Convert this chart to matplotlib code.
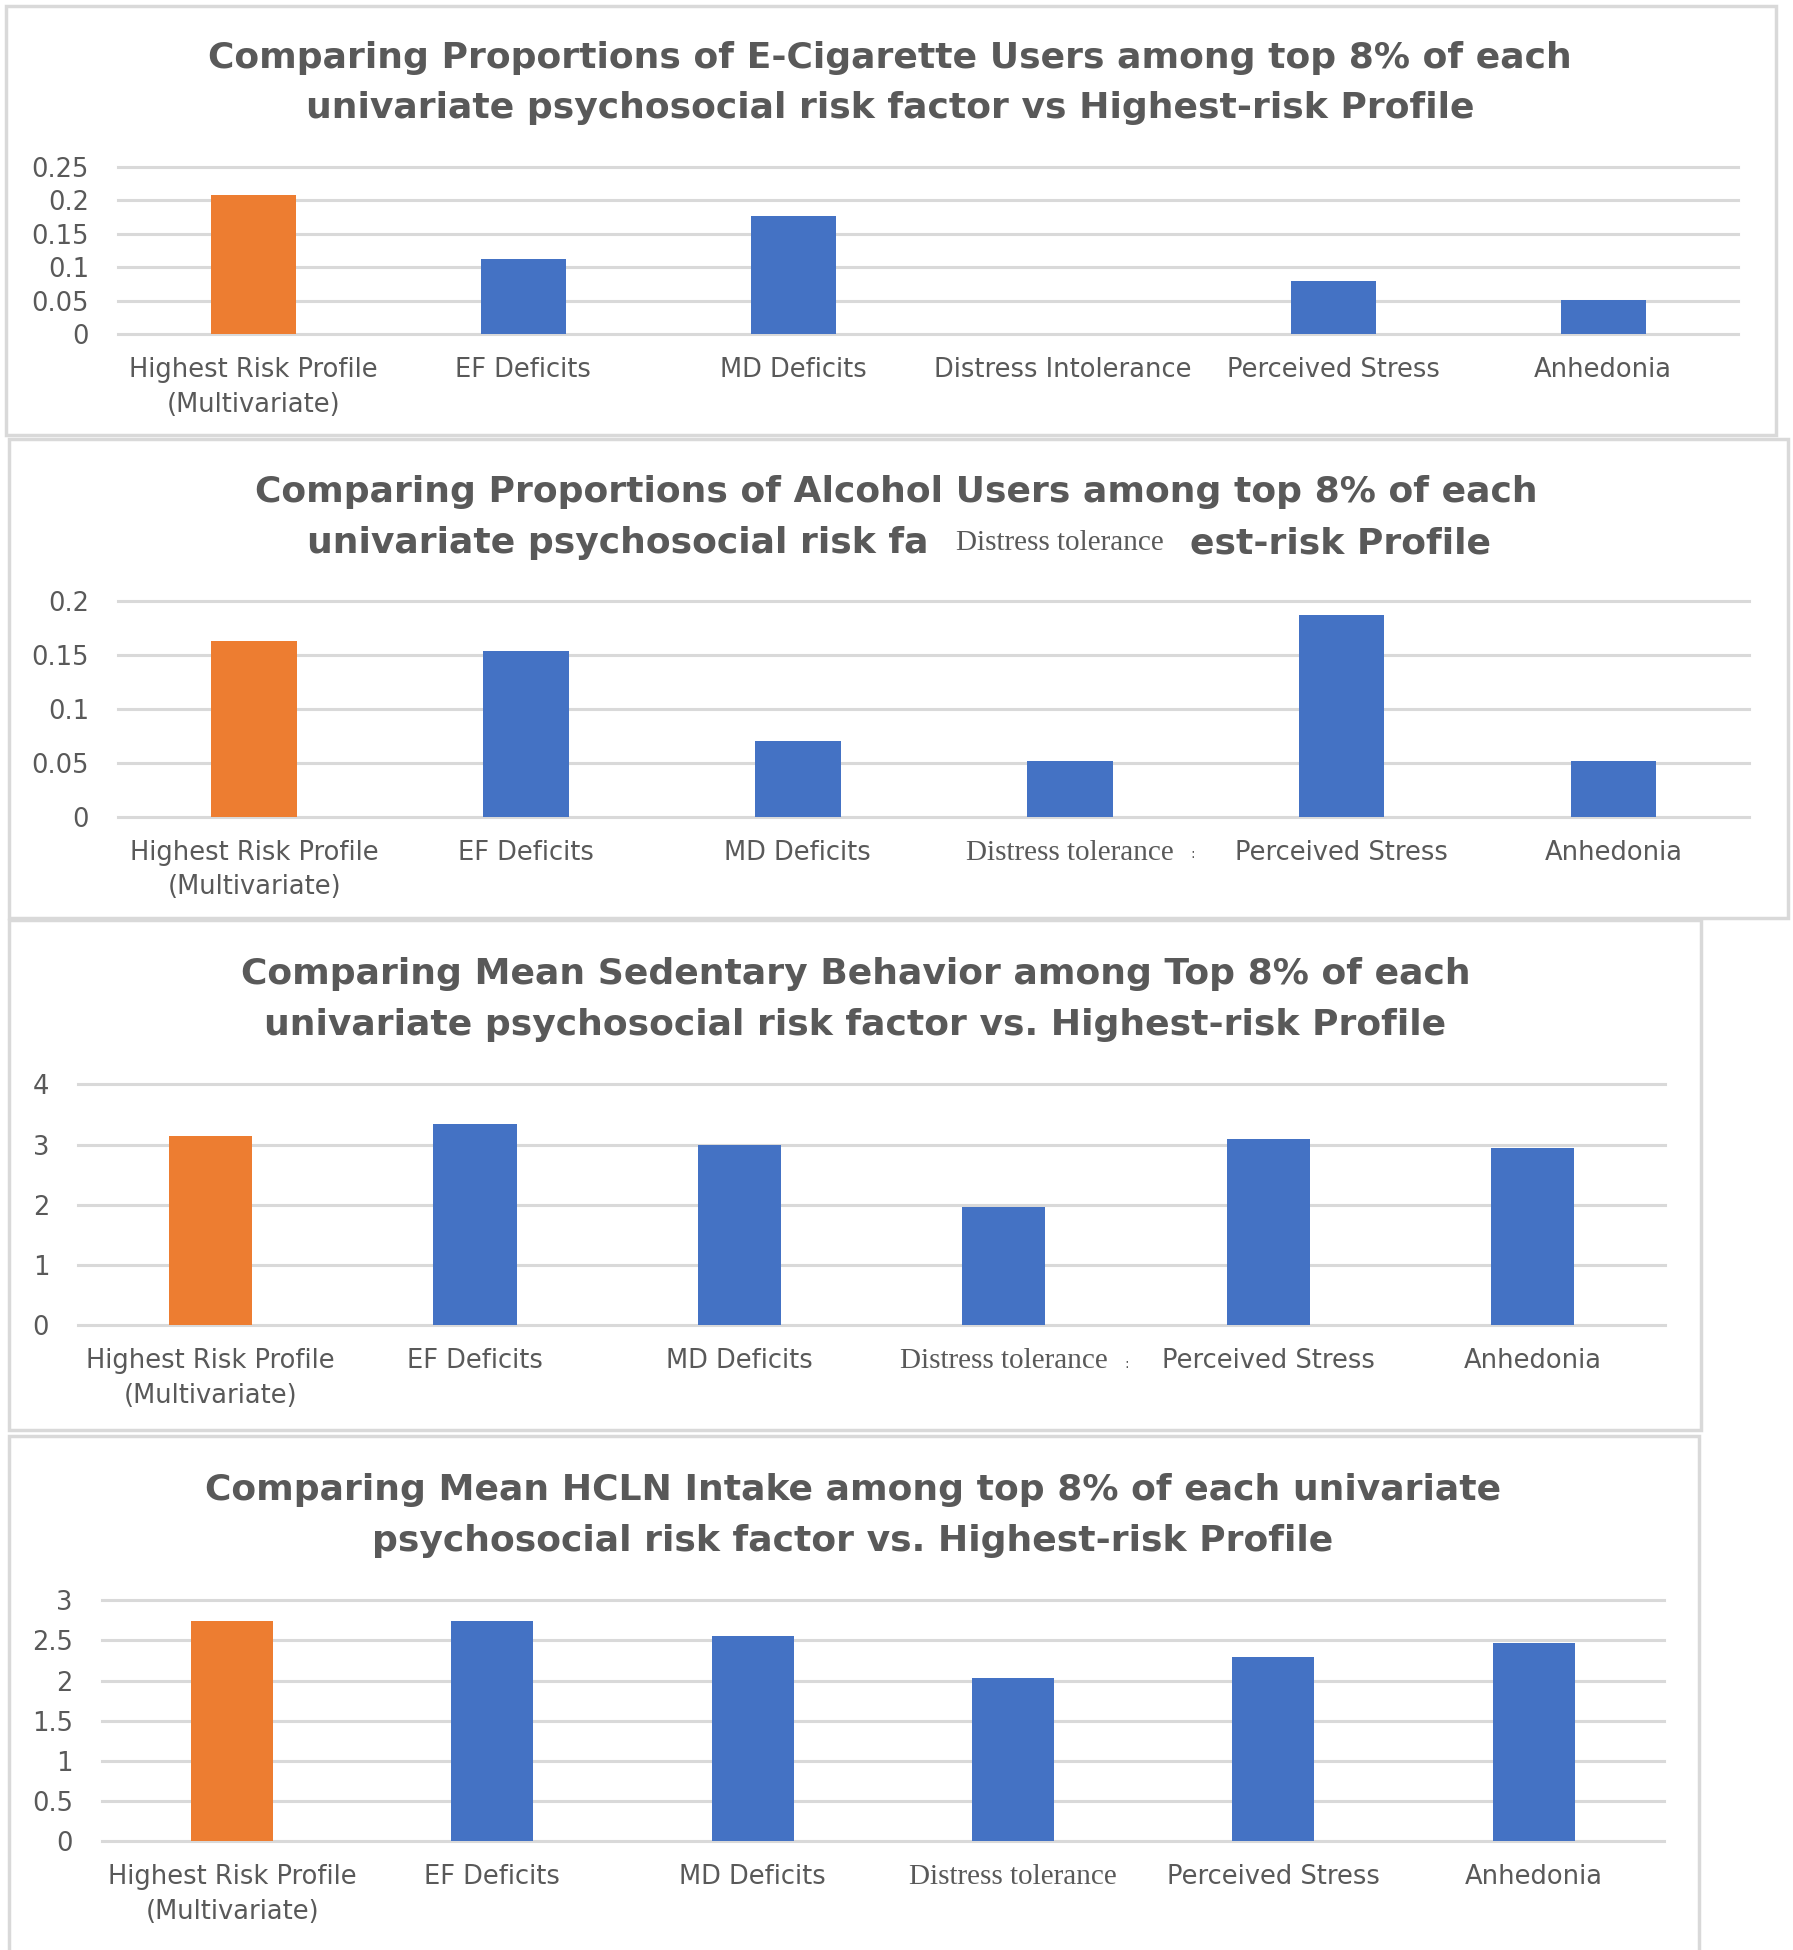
import matplotlib
matplotlib.use("Agg")
import matplotlib.pyplot as plt
from matplotlib.patches import Rectangle

# ---------------- data ----------------
categories_ecig = ["Highest Risk Profile\n(Multivariate)", "EF Deficits", "MD Deficits",
                   "Distress Intolerance", "Perceived Stress", "Anhedonia"]
categories = ["Highest Risk Profile\n(Multivariate)", "EF Deficits", "MD Deficits",
              "Distress tolerance", "Perceived Stress", "Anhedonia"]

ecig = [0.208, 0.113, 0.177, 0.0, 0.079, 0.052]
alcohol = [0.163, 0.153, 0.070, 0.052, 0.187, 0.052]
sedentary = [3.15, 3.34, 2.99, 1.96, 3.09, 2.95]
hcln = [2.74, 2.74, 2.55, 2.03, 2.30, 2.47]

yticks_ecig = [0, 0.05, 0.1, 0.15, 0.2, 0.25]
ylabels_ecig = ["0", "0.05", "0.1", "0.15", "0.2", "0.25"]
yticks_alc = [0, 0.05, 0.1, 0.15, 0.2]
ylabels_alc = ["0", "0.05", "0.1", "0.15", "0.2"]
yticks_sed = [0, 1, 2, 3, 4]
ylabels_sed = ["0", "1", "2", "3", "4"]
yticks_hcln = [0, 0.5, 1, 1.5, 2, 2.5, 3]
ylabels_hcln = ["0", "0.5", "1", "1.5", "2", "2.5", "3"]

titles_ecig = ["Comparing Proportions of E-Cigarette Users among top 8% of each",
               "univariate psychosocial risk factor vs Highest-risk Profile"]
titles_alc = ["Comparing Proportions of Alcohol Users among top 8% of each",
              "univariate psychosocial risk fa", "Distress tolerance", "est-risk Profile"]
titles_sed = ["Comparing Mean Sedentary Behavior among Top 8% of each",
              "univariate psychosocial risk factor vs. Highest-risk Profile"]
titles_hcln = ["Comparing Mean HCLN Intake among top 8% of each univariate",
               "psychosocial risk factor vs. Highest-risk Profile"]

# ---------------- style ----------------
ORANGE = "#ED7D31"
BLUE = "#4472C4"
GRID = "#D9D9D9"
TXT = "#595959"
BORDER = "#D9D9D9"
SANS = ["DejaVu Sans"]
SERIF = ["Liberation Serif", "DejaVu Serif"]
TITLE_FS = 26
TICK_FS = 18.5
YTICK_FS = 18.5
SERIF_FS = 21

W, H = 1793, 1950
S = 1793 / 1442.0

fig = plt.figure(figsize=(W / 100, H / 100), dpi=100)
fig.patch.set_facecolor("white")


def fx(x):
    return x * S / W


def fy(y):
    return 1 - y * S / H


def border(x0, y0, x1, y1):
    fig.patches.append(Rectangle((fx(x0), fy(y1)), fx(x1) - fx(x0), fy(y0) - fy(y1),
                                 transform=fig.transFigure, fill=False,
                                 edgecolor=BORDER, lw=2.5, zorder=0))


def panel(left, top, right, bottom, values, cats, yt, ytl, serif_idx=None):
    ax = fig.add_axes([fx(left), fy(bottom), fx(right) - fx(left), fy(top) - fy(bottom)])
    ax.set_xlim(-0.5, len(values) - 0.5)
    ax.set_ylim(0, yt[-1])
    for y in yt:
        ax.axhline(y, color=GRID, lw=2.2, zorder=0, clip_on=False)
    colors = [ORANGE] + [BLUE] * (len(values) - 1)
    ax.bar(range(len(values)), values, width=0.315, color=colors, zorder=2)
    for s in ax.spines.values():
        s.set_visible(False)
    ax.set_yticks(yt)
    ax.set_yticklabels(ytl, fontsize=YTICK_FS, color=TXT, family=SANS)
    ax.tick_params(axis="y", length=0, pad=21)
    ax.set_xticks(range(len(values)))
    ax.set_xticklabels(cats, fontsize=TICK_FS, color=TXT, family=SANS, linespacing=1.42)
    ax.tick_params(axis="x", length=0, pad=16.5)
    if serif_idx is not None:
        lab = ax.get_xticklabels()[serif_idx]
        lab.set_family(SERIF)
        lab.set_fontsize(SERIF_FS)
    ax.set_facecolor("none")
    return ax


def title(lines, x, ys):
    for t, y in zip(lines, ys):
        fig.text(fx(x), fy(y), t, ha="center", va="center", fontsize=TITLE_FS,
                 fontweight="bold", color=TXT, family=SANS)


# ---------------- panel borders ----------------
border(5, 5, 1428, 350)
border(7, 353, 1438, 738)
border(7, 740, 1368, 1150)
border(7, 1155, 1366, 1575)

# ---------------- panel 1 ----------------
title(titles_ecig, 716, [47, 87])
panel(95, 134, 1398, 269, ecig, categories_ecig, yticks_ecig, ylabels_ecig)

# ---------------- panel 2 ----------------
fig.text(fx(721), fy(396), titles_alc[0], ha="center", va="center", fontsize=TITLE_FS,
         fontweight="bold", color=TXT, family=SANS)
fig.text(fx(747), fy(437), titles_alc[1], ha="right", va="center", fontsize=TITLE_FS,
         fontweight="bold", color=TXT, family=SANS)
fig.text(fx(852), fy(437), titles_alc[2], ha="center", va="center", fontsize=SERIF_FS,
         color=TXT, family=SERIF)
fig.text(fx(957), fy(437), titles_alc[3], ha="left", va="center", fontsize=TITLE_FS,
         fontweight="bold", color=TXT, family=SANS)
panel(95, 483, 1407, 657, alcohol, categories, yticks_alc, ylabels_alc, serif_idx=3)
fig.text(fx(959), fy(687), ":", ha="center", va="center", fontsize=10, color=TXT, family=SANS)

# ---------------- panel 3 ----------------
title(titles_sed, 688, [783, 824])
panel(63, 872, 1339, 1066, sedentary, categories, yticks_sed, ylabels_sed, serif_idx=3)
fig.text(fx(906), fy(1097), ":", ha="center", va="center", fontsize=10, color=TXT, family=SANS)

# ---------------- panel 4 ----------------
title(titles_hcln, 686, [1198, 1239])
panel(82, 1287, 1338, 1481, hcln, categories, yticks_hcln, ylabels_hcln, serif_idx=3)

fig.savefig("out.png", dpi=100, facecolor="white")
